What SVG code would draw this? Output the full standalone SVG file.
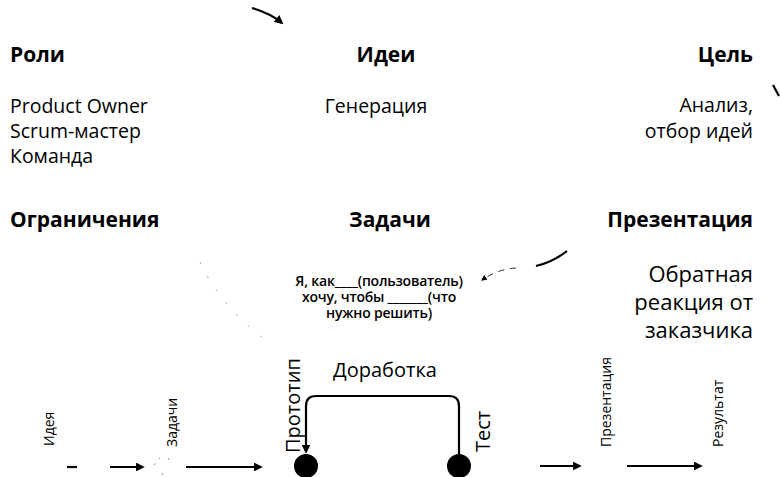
<svg xmlns="http://www.w3.org/2000/svg" width="780" height="477" viewBox="0 0 780 477">
<defs>
<style>
text{font-family:"Open Sans","Liberation Sans",sans-serif;fill:#000}
.h{font-weight:bold;font-size:21px}
.b{font-size:19.5px}
.r{font-size:22px}
.s{font-size:14px;font-weight:600;letter-spacing:-0.2px}
.v{font-size:14px}
.m{font-size:20px}
.ln{fill:none;stroke:#000;stroke-width:2.2}
</style>
<marker id="ah" viewBox="0 0 10 10" refX="8" refY="5" markerWidth="4" markerHeight="4" orient="auto" markerUnits="strokeWidth">
<path d="M0,0 L10,5 L0,10 z" fill="#000"/>
</marker>
<marker id="ahs" viewBox="0 0 10 10" refX="8" refY="5" markerWidth="6" markerHeight="6" orient="auto" markerUnits="strokeWidth">
<path d="M0,0 L10,5 L0,10 z" fill="#000"/>
</marker>
</defs>
<rect width="780" height="477" fill="#fff"/>

<g id="roles">
<text class="h" x="10" y="62">Роли</text>
<text class="b" x="10" y="113">Product Owner</text>
<text class="b" x="10" y="138">Scrum-мастер</text>
<text class="b" x="10" y="163">Команда</text>
</g>
<g id="ideas">
<text class="h" x="386" y="62" text-anchor="middle">Идеи</text>
<text class="b" x="376" y="113" text-anchor="middle">Генерация</text>
</g>
<g id="goal">
<text class="h" x="753" y="62" text-anchor="end">Цель</text>
<text class="b" x="753" y="112" text-anchor="end">Анализ,</text>
<text class="b" x="753" y="138" text-anchor="end">отбор идей</text>
</g>
<g id="limits">
<text class="h" x="10" y="227">Ограничения</text>
</g>
<g id="tasks">
<text class="h" x="390" y="227" text-anchor="middle">Задачи</text>
<text class="s" x="379" y="286" text-anchor="middle">Я, как____(пользователь)</text>
<text class="s" x="379" y="302" text-anchor="middle">хочу, чтобы _______(что</text>
<text class="s" x="379" y="318" text-anchor="middle">нужно решить)</text>
</g>
<g id="presentation">
<text class="h" x="753" y="227" text-anchor="end">Презентация</text>
<text class="r" x="753" y="282" text-anchor="end">Обратная</text>
<text class="r" x="753" y="310" text-anchor="end">реакция от</text>
<text class="r" x="753" y="338" text-anchor="end">заказчика</text>
</g>

<g id="flow-labels">
<text class="v" transform="translate(54,446) rotate(-90)">Идея</text>
<text class="v" transform="translate(177,447) rotate(-90)">Задачи</text>
<text class="m" transform="translate(300,453) rotate(-90)">Прототип</text>
<text class="m" x="333" y="377">Доработка</text>
<text class="m" transform="translate(490,452) rotate(-90)">Тест</text>
<text class="v" transform="translate(611,447) rotate(-90)">Презентация</text>
<text class="v" transform="translate(723,447) rotate(-90)">Результат</text>
</g>

<g id="prototype-node"><circle cx="306" cy="466" r="12" fill="#000"/></g>
<g id="test-node"><circle cx="459" cy="466" r="12" fill="#000"/></g>

<g id="connectors">
<path class="ln" d="M67,467 H77"/>
<path class="ln" d="M110,467 H143" marker-end="url(#ah)"/>
<path class="ln" d="M186,467 H261" marker-end="url(#ah)"/>
<path class="ln" d="M459,454 V406 Q459,396 449,396 H316 Q306,396 306,406 V452" marker-end="url(#ah)"/>
<path class="ln" d="M540,466 H580" marker-end="url(#ah)"/>
<path class="ln" d="M627,466 H701" marker-end="url(#ah)"/>
<path class="ln" d="M252,8 Q270,13 282,23" stroke-width="2.6" marker-end="url(#ah)"/>
<path class="ln" d="M536,266 Q553,262 567,251" stroke-width="2"/>
<path fill="none" stroke="#333" stroke-width="1" stroke-dasharray="6 6" d="M516,268 Q498,269 482,280" marker-end="url(#ahs)"/>
<path class="ln" d="M773,85 L779,96" stroke-width="2"/>
<path fill="none" stroke="#999" stroke-width="1" stroke-dasharray="2 14" d="M200,262 Q220,305 265,340"/>
<path fill="none" stroke="#888" stroke-width="1" stroke-dasharray="2 6" d="M154,465 L160,458 M168,458 L172,465 M162,473 L163,475"/>
</g>
</svg>
